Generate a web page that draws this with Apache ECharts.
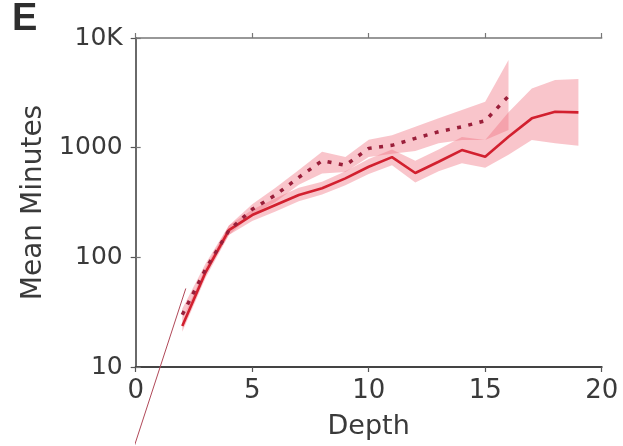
<!DOCTYPE html>
<html><head><meta charset="utf-8">
<script src="https://cdn.jsdelivr.net/npm/echarts@6/dist/echarts.min.js"></script>
<style>html,body{margin:0;padding:0;background:#fff}#c{width:623px;height:446px}</style>
</head><body><div id="c"></div>
<script>
// Depth values
const depthSolid = [2,3,4,5,6,7,8,9,10,11,12,13,14,15,16,17,18,19];
const meanSolid  = [23.7,73,177,243,300,370,426,525,670,820,587,744,951,826,1257,1850,2125,2100];
const lowSolid   = [21,65,160,215,262,325,375,455,575,690,480,610,720,655,860,1175,1100,1040];
const highSolid  = [27,81,195,272,345,430,490,610,790,960,760,960,1250,1175,2100,3470,4130,4220];

const depthDotted = [2,3,4,5,6,7,8,9,10,11,12,13,14,15,16];
const meanDotted  = [30,78,176,274,370,536,760,690,985,1050,1216,1396,1550,1760,2950];
const lowDotted   = [27,70,160,245,320,460,580,600,820,880,930,1100,1175,1175,1450];
const highDotted  = [34,88,195,305,430,625,920,820,1180,1300,1550,1850,2200,2620,6300];

const xTicks = [0,5,10,15,20];
const yTickLabels = {10:'10',100:'100',1000:'1000',10000:'10K'};
const strayLine = [[2.15,52],[-0.06,1.9]];

const chart = echarts.init(document.getElementById('c'), null, {renderer:'canvas'});

function band(xs, lo, hi, color){
  return {
    type:'custom', coordinateSystem:'cartesian2d', silent:true, z:1,
    data:[[xs[0], lo[0]]],
    renderItem:function(params, api){
      const pts=[];
      for(let i=0;i<xs.length;i++) pts.push(api.coord([xs[i],hi[i]]));
      for(let i=xs.length-1;i>=0;i--) pts.push(api.coord([xs[i],lo[i]]));
      return {type:'polygon', shape:{points:pts}, style:{fill:color, stroke:null}};
    }
  };
}

const axisTxt = {fontFamily:'DejaVu Sans', fontSize:25, color:'#3a3a3a'};

chart.setOption({
  animation:false,
  backgroundColor:'#fff',
  graphic:[{type:'text', left:12, top:1, style:{text:'E', font:'bold 38px "Liberation Sans"', fill:'#2e2e2e'}}],
  grid:{left:135.7, right:21.3, top:38, bottom:79},
  xAxis:[{
    type:'value', min:0, max:20, interval:5, position:'bottom',
    axisLine:{lineStyle:{color:'#444', width:2}},
    axisTick:{show:true, inside:false, length:5, lineStyle:{color:'#555', width:1.2}},
    axisLabel:{...axisTxt, fontSize:26, margin:11},
    splitLine:{show:false},
    name:'Depth', nameLocation:'middle', nameGap:46,
    nameTextStyle:{fontFamily:'DejaVu Sans', fontSize:27, color:'#3a3a3a'}
  },{
    type:'value', min:0, max:20, interval:5, position:'top',
    axisLine:{lineStyle:{color:'#777', width:1.5}},
    axisTick:{show:true, inside:false, length:5, lineStyle:{color:'#777', width:1.2}},
    axisLabel:{show:false}, splitLine:{show:false}
  }],
  yAxis:[{
    type:'log', logBase:10, min:10, max:10000, position:'left',
    axisLine:{show:true, lineStyle:{color:'#444', width:2}},
    axisTick:{show:true, inside:false, length:5, lineStyle:{color:'#555', width:1.2}},
    axisLabel:{...axisTxt, margin:13, formatter:v=>yTickLabels[Math.round(v)]||''},
    minorTick:{show:false},
    splitLine:{show:false},
    name:'Mean Minutes', nameLocation:'middle', nameGap:88,
    nameTextStyle:{fontFamily:'DejaVu Sans', fontSize:28, color:'#3a3a3a'}
  },{
    type:'log', logBase:10, min:10, max:10000, position:'right',
    axisLine:{show:true, lineStyle:{color:'#777', width:1.5}},
    axisTick:{show:true, inside:false, length:5, lineStyle:{color:'#777', width:1.2}},
    axisLabel:{show:false}, splitLine:{show:false}
  }],
  series:[
    band(depthSolid, lowSolid, highSolid, 'rgba(240,110,125,0.4)'),
    band(depthDotted, lowDotted, highDotted, 'rgba(240,110,125,0.4)'),
    {type:'line', z:3, symbol:'none', data:depthSolid.map((d,i)=>[d,meanSolid[i]]),
     lineStyle:{color:'#d2202f', width:2.6}},
    {type:'line', z:4, symbol:'none', data:depthDotted.map((d,i)=>[d,meanDotted[i]]),
     lineStyle:{color:'#9a1f3a', width:3.5, type:[4,7.5], cap:'butt'}},
    {type:'line', z:5, symbol:'none', clip:false, silent:true, data:strayLine,
     lineStyle:{color:'#b04858', width:1}}
  ]
});
</script></body></html>
